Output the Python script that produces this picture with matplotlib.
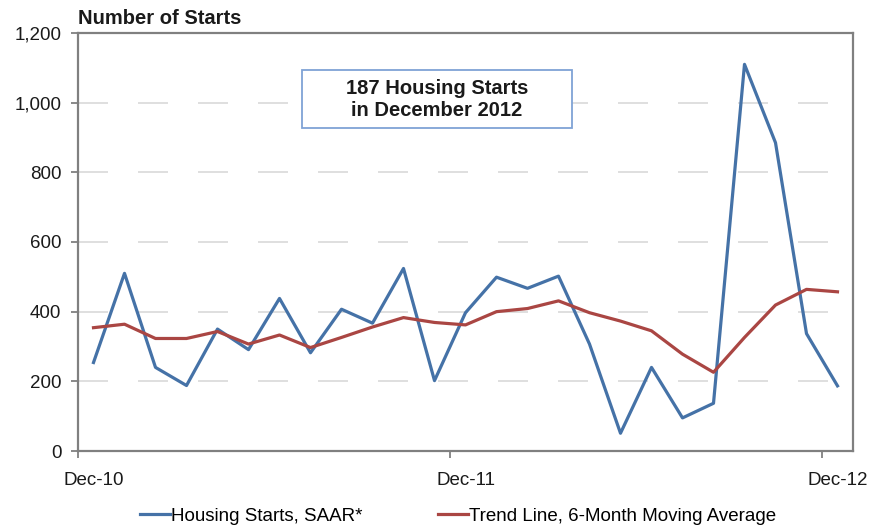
import matplotlib
matplotlib.use("Agg")
import numpy as np
from matplotlib import pyplot as plt
from matplotlib.patches import Rectangle

plt.rcParams['font.family'] = ['Liberation Sans', 'DejaVu Sans']

# monthly values, Dec-10 .. Dec-12
months = ['Dec-10', 'Jan-11', 'Feb-11', 'Mar-11', 'Apr-11', 'May-11', 'Jun-11',
          'Jul-11', 'Aug-11', 'Sep-11', 'Oct-11', 'Nov-11', 'Dec-11', 'Jan-12',
          'Feb-12', 'Mar-12', 'Apr-12', 'May-12', 'Jun-12', 'Jul-12', 'Aug-12',
          'Sep-12', 'Oct-12', 'Nov-12', 'Dec-12']
starts = [254, 510, 240, 188, 350, 291, 438, 282, 407, 367, 524, 202, 397,
          499, 467, 502, 307, 51, 240, 95, 137, 1110, 885, 337, 187]
trend = [354, 364, 323, 323, 343, 307, 333, 297, 326, 356, 383, 369, 362,
         400, 409, 431, 397, 373, 345, 278, 226, 326, 419, 464, 457]
xlabel_idx = [0, 12, 24]
yticks = [0, 200, 400, 600, 800, 1000, 1200]

blue = '#4572a7'
red = '#aa4643'
axis_col = '#808080'
txt_col = '#1a1a1a'

W, H = 874, 529
fig = plt.figure(figsize=(W / 100, H / 100), dpi=100)
ax = fig.add_axes([78 / W, 1 - 451 / H, (853 - 78) / W, (451 - 33) / H])

x = np.arange(len(months))
ax.plot(x, starts, color=blue, lw=2.3, label='Housing Starts, SAAR*', zorder=3)
ax.plot(x, trend, color=red, lw=2.3, label='Trend Line, 6-Month Moving Average', zorder=3)

ax.set_xlim(-0.5, len(months) - 0.5)
ax.set_ylim(0, 1200)
ax.set_yticks(yticks)
ax.set_yticklabels([f'{v:,}' for v in yticks])
for v in yticks[1:-1]:
    ax.axhline(v, color='#d9d9d9', lw=1.2, dashes=(18, 18), zorder=1)

# ticks between categories, labels at category centres
ax.set_xticks([-0.5, 11.5, 23.5])
ax.set_xticklabels([])
ax.set_xticks(xlabel_idx, minor=True)
ax.set_xticklabels([months[i] for i in xlabel_idx], minor=True)
ax.tick_params(axis='x', which='major', length=5, width=1.3, color=axis_col, direction='out')
ax.tick_params(axis='x', which='minor', length=0, pad=15, labelsize=13.5, labelcolor=txt_col)
ax.tick_params(axis='y', length=5, width=1.3, color=axis_col, direction='out',
               labelsize=13.5, labelcolor=txt_col, pad=7)

for s in ax.spines.values():
    s.set_color(axis_col)
    s.set_linewidth(1.6)

fig.text(78 / W, 1 - 18 / H, 'Number of Starts', fontsize=14.5, fontweight='bold',
         color=txt_col, va='center', ha='left')

# annotation box
fig.patches.append(Rectangle((302 / W, 1 - 128 / H), 270 / W, 58 / H,
                             transform=fig.transFigure, fill=True, facecolor='white',
                             edgecolor='#7fa3d6', lw=1.3, zorder=5))
fig.text(437 / W, 1 - 100 / H, '187 Housing Starts\nin December 2012', fontsize=14.5,
         fontweight='bold', color=txt_col, ha='center', va='center',
         linespacing=1.2, zorder=6)

fig.legend(loc='center', bbox_to_anchor=(458 / W, 1 - 516 / H), ncol=2, frameon=False,
           fontsize=13.5, handlelength=1.6, handletextpad=0.05, columnspacing=4.0,
           borderaxespad=0, borderpad=0)

fig.savefig('out.png', dpi=100)
